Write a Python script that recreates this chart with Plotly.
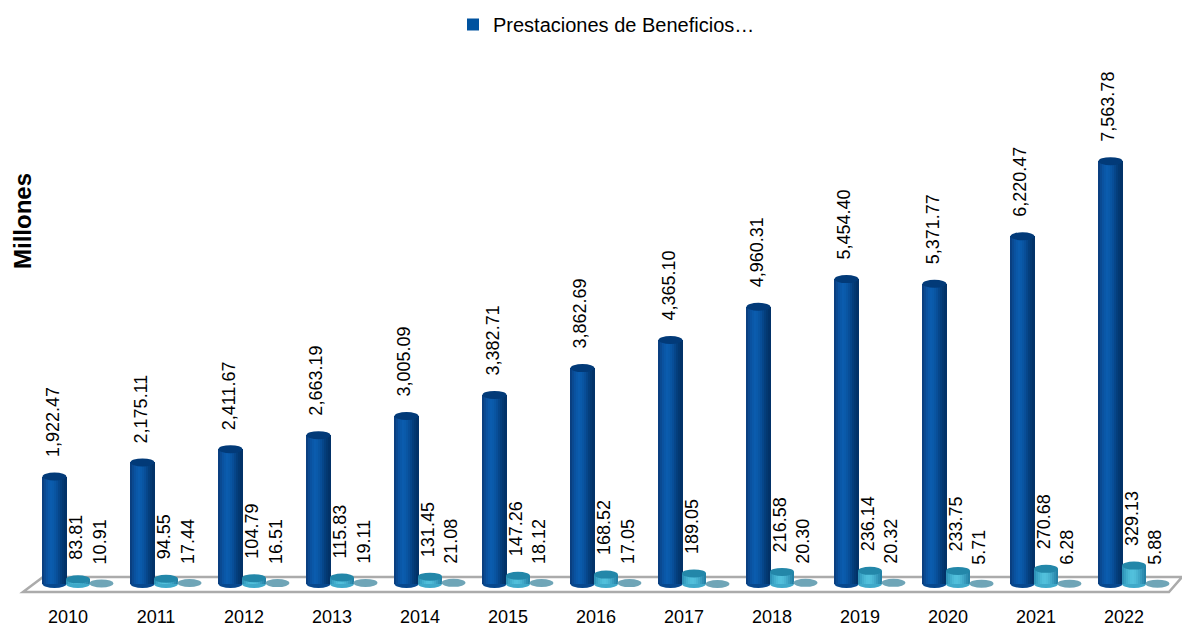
import plotly.graph_objects as go

years = [2010, 2011, 2012, 2013, 2014, 2015, 2016, 2017, 2018, 2019, 2020, 2021, 2022]
prestaciones = [1922.47, 2175.11, 2411.67, 2663.19, 3005.09, 3382.71, 3862.69, 4365.10, 4960.31, 5454.40, 5371.77, 6220.47, 7563.78]
serie_b = [83.81, 94.55, 104.79, 115.83, 131.45, 147.26, 168.52, 189.05, 216.58, 236.14, 233.75, 270.68, 329.13]
serie_c = [10.91, 17.44, 16.51, 19.11, 21.08, 18.12, 17.05, None, 20.30, 20.32, 5.71, 6.28, 5.88]
legend_name = "Prestaciones de Beneficios…"

W, H = 1182, 626
FONT = "Liberation Sans, Arial, sans-serif"
STEP = 88.0
X0 = 78.0          # pixel of middle bar in first group
BASE = 584.0       # pixel of value 0
SCALE = 0.0559     # px per unit
PLOT_BOTTOM = 604.0
BAR_W = 24 / STEP
OFFS = [-23.5 / STEP, 0.0, 23.5 / STEP]

blue_grad = ["#0a3f80", "#0a4a92", "#0a52a0", "#0a58a8", "#0b5cae", "#0a5aaa", "#0955a2", "#084e98", "#06468a", "#043e7c", "#033871", "#023268"]
teal_grad = ["#2f93b8", "#38a2c4", "#42aecd", "#4ab8d5", "#50bfdb", "#52c0dc", "#4fbcd8", "#49b3d1", "#41a8c8", "#389bbd", "#2f8eb1", "#2682a6"]

fig = go.Figure()


def strips(values, off, grad):
    n = len(grad)
    w = BAR_W / n
    for k, c in enumerate(grad):
        fig.add_trace(go.Bar(
            x=[i + off - BAR_W / 2 + (k + 0.5) * w for i in range(len(values))],
            y=values,
            width=w * 1.25,
            marker=dict(color=c, line=dict(width=0)),
            showlegend=False,
            hoverinfo="skip",
        ))


strips(prestaciones, OFFS[0], blue_grad)
strips(serie_b, OFFS[1], teal_grad)

fig.add_trace(go.Scatter(
    x=[None], y=[None], mode="markers", name=legend_name,
    marker=dict(symbol="square", size=9, color="#00529f", line=dict(width=0)),
))

shapes = []


def ellipse(cx, val, color, layer):
    return dict(type="circle", xref="x", yref="y", layer=layer,
                x0=cx - BAR_W / 2, x1=cx + BAR_W / 2,
                ysizemode="pixel", yanchor=val, y0=-4, y1=4,
                fillcolor=color, line=dict(width=0))


# floor (paper coords, plot domain covers 0..PLOT_BOTTOM)
def pp(px, py):
    return f"{px / W:.5f},{1 - py / PLOT_BOTTOM:.5f}"


shapes.append(dict(
    type="path", xref="paper", yref="paper", layer="below",
    path=f"M{pp(43, 577)} L{pp(1182, 577)} L{pp(1169, 592)} L{pp(23, 592)} Z",
    fillcolor="#ffffff", line=dict(color="#ababab", width=2.5),
))

for i in range(len(years)):
    shapes.append(ellipse(i + OFFS[0], 0, "#07488e", "below"))
    shapes.append(ellipse(i + OFFS[1], 0, "#3fa9c9", "below"))
    shapes.append(ellipse(i + OFFS[0], prestaciones[i], "#023a78", "above"))
    shapes.append(ellipse(i + OFFS[1], serie_b[i], "#2387a9", "above"))
    if serie_c[i] is not None:
        shapes.append(ellipse(i + OFFS[2], serie_c[i], "#6fa5b7", "above"))
    else:
        shapes.append(ellipse(i + OFFS[2], 0, "#6fa5b7", "above"))

annotations = []
for values, off in ((prestaciones, OFFS[0]), (serie_b, OFFS[1]), (serie_c, OFFS[2])):
    for i, v in enumerate(values):
        if v is None:
            continue
        annotations.append(dict(
            x=i + off, y=v, xref="x", yref="y", text=f"{v:,.2f}", textangle=-90,
            showarrow=False, xanchor="center", yanchor="bottom", xshift=-2, yshift=17,
            font=dict(family=FONT, size=18, color="#000000"),
        ))

annotations.append(dict(
    xref="paper", yref="paper", x=22 / W, y=1 - 221 / PLOT_BOTTOM, text="<b>Millones</b>",
    textangle=-90, showarrow=False, xanchor="center", yanchor="middle",
    font=dict(family=FONT, size=24, color="#000000"),
))

fig.update_layout(
    width=W, height=H,
    margin=dict(l=0, r=0, t=0, b=H - PLOT_BOTTOM, pad=0),
    paper_bgcolor="#ffffff", plot_bgcolor="#ffffff",
    barmode="overlay",
    bargap=0,
    shapes=shapes, annotations=annotations,
    showlegend=True,
    legend=dict(orientation="h", x=453 / W, y=1.0 - 5 / PLOT_BOTTOM, xanchor="left", yanchor="top",
                bgcolor="rgba(0,0,0,0)", font=dict(family=FONT, size=20, color="#000000"),
                itemsizing="constant"),
    xaxis=dict(
        automargin=False,
        range=[-X0 / STEP, (W - X0) / STEP],
        tickmode="array",
        tickvals=[i - 10 / STEP for i in range(len(years))],
        ticktext=[str(y) for y in years],
        tickfont=dict(family=FONT, size=18, color="#000000"),
        ticks="", showgrid=False, zeroline=False, showline=False,
    ),
    yaxis=dict(
        automargin=False,
        range=[-(PLOT_BOTTOM - BASE) / SCALE, BASE / SCALE],
        visible=False, showgrid=False, zeroline=False,
    ),
)

fig.write_html("out.html", config=dict(displayModeBar=False),
               post_script="document.body.style.margin='0';document.body.style.overflow='hidden';")
